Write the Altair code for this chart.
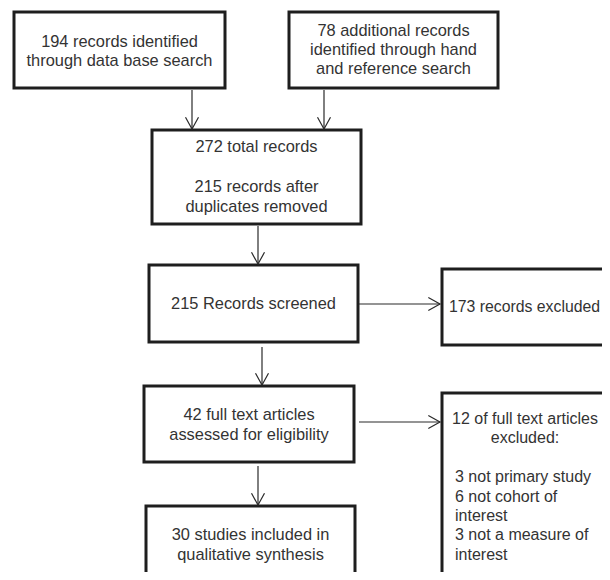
import altair as alt
import pandas as pd

# ---- flowchart content ----
box_lines = [
    ["194 records identified", "through data base search"],
    ["78 additional records", "identified through hand", "and reference search"],
    ["272 total records", "", "215 records after", "duplicates removed"],
    ["215 Records screened"],
    ["173 records excluded"],
    ["42 full text articles", "assessed for eligibility"],
    ["12 of full text articles", "excluded:", "", "3 not primary study",
     "6 not cohort of", "interest", "3 not a measure of", "interest"],
    ["30 studies included in", "qualitative synthesis"],
]
# box geometry (reference pixel space)
box_x1 = [14, 289, 152, 149, 442, 144, 442, 146]
box_x2 = [225, 498, 361, 358, 800, 354, 800, 355]
box_y1 = [12, 12, 130, 265, 269, 386, 393, 506]
box_y2 = [88, 88, 224, 342, 345, 462, 700, 700]
text_y0 = [42, 31, 147, 304, 307, 415, 419, 535]
text_lh = [19, 19, 20, 19, 19, 20, 19.4, 20]

# arrows
arr_x1 = [192, 324, 258, 262, 359, 359, 258]
arr_y1 = [90, 90, 226, 347, 304, 422, 466]
arr_x2 = [192, 324, 258, 262, 440, 440, 258]
arr_y2 = [129, 129, 264, 385, 304, 422, 505]
arr_dir = ["down", "down", "down", "down", "right", "right", "down"]

boxes = pd.DataFrame({"x1": box_x1, "x2": box_x2, "y1": box_y1, "y2": box_y2})

rows = []
for i, lines in enumerate(box_lines):
    cx = (box_x1[i] + box_x2[i]) / 2
    for j, t in enumerate(lines):
        if t == "":
            continue
        y = text_y0[i] + j * text_lh[i]
        if i == 4:
            rows.append({"x": 449, "y": y, "t": t, "a": "left", "s": 15.8})
        elif i == 6 and j >= 2:
            rows.append({"x": 455, "y": y, "t": t, "a": "left", "s": 16.0})
        elif i == 6:
            rows.append({"x": 525, "y": y, "t": t, "a": "center", "s": 16.0})
        else:
            rows.append({"x": cx, "y": y, "t": t, "a": "center", "s": 16.4})
texts = pd.DataFrame(rows)

arrows = pd.DataFrame({"x1": arr_x1, "y1": arr_y1, "x2": arr_x2, "y2": arr_y2, "dir": arr_dir})

PW, PH = 594, 564
xs = alt.Scale(domain=[8, 8 + PW], nice=False, zero=False)
ys = alt.Scale(domain=[8, 8 + PH], nice=False, zero=False, reverse=True)

rects = alt.Chart(boxes).mark_rect(
    fill="white", stroke="#1e1e1e", strokeWidth=3, clip=True
).encode(
    x=alt.X("x1:Q", scale=xs, axis=None),
    x2="x2:Q",
    y=alt.Y("y1:Q", scale=ys, axis=None),
    y2="y2:Q",
)

lines = alt.Chart(arrows).mark_rule(color="#2a2a2a", strokeWidth=1.2).encode(
    x=alt.X("x1:Q", scale=xs, axis=None),
    x2="x2:Q",
    y=alt.Y("y1:Q", scale=ys, axis=None),
    y2="y2:Q",
)

head_down = alt.Chart(arrows).transform_filter(alt.datum.dir == "down").mark_point(
    shape="M-1,-1.8L0,0L1,-1.8", filled=False, stroke="#2a2a2a", strokeWidth=1.2,
    size=169, opacity=1,
).encode(
    x=alt.X("x2:Q", scale=xs, axis=None),
    y=alt.Y("y2:Q", scale=ys, axis=None),
)

head_right = alt.Chart(arrows).transform_filter(alt.datum.dir == "right").mark_point(
    shape="M-1.8,-1L0,0L-1.8,1", filled=False, stroke="#2a2a2a", strokeWidth=1.2,
    size=169, opacity=1,
).encode(
    x=alt.X("x2:Q", scale=xs, axis=None),
    y=alt.Y("y2:Q", scale=ys, axis=None),
)

def text_layer(align):
    return alt.Chart(texts).transform_filter(alt.datum.a == align).mark_text(
        font="Liberation Sans", color="#333333",
        align=align, baseline="middle",
    ).encode(
        x=alt.X("x:Q", scale=xs, axis=None),
        y=alt.Y("y:Q", scale=ys, axis=None),
        text="t:N",
        size=alt.Size("s:Q", scale=None, legend=None),
    )

chart = alt.layer(
    rects, lines, head_down, head_right, text_layer("center"), text_layer("left")
).properties(
    width=PW, height=PH, padding=0, autosize=alt.AutoSizeParams(type="none")
).configure_view(stroke=None)

chart.save("out.html", embed_options={"renderer": "svg", "actions": False})
